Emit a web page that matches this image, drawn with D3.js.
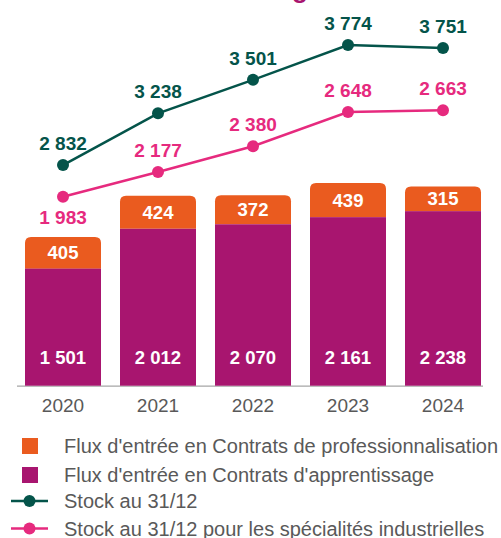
<!DOCTYPE html>
<html>
<head>
<meta charset="utf-8">
<script src="https://cdn.jsdelivr.net/npm/d3@7"></script>
<style>
  body { margin: 0; background: #fff; }
  svg { display: block; font-family: "Liberation Sans", Arial, sans-serif; }
</style>
</head>
<body>
<div id="chart"></div>
<script>
const years = ['2020', '2021', '2022', '2023', '2024'];
const apprentissage = [1501, 2012, 2070, 2161, 2238];
const professionnalisation = [405, 424, 372, 439, 315];
const stock = [2832, 3238, 3501, 3774, 3751];
const stockIndus = [1983, 2177, 2380, 2648, 2663];
const legendLabels = [
  "Flux d'entrée en Contrats de professionnalisation",
  "Flux d'entrée en Contrats d'apprentissage",
  'Stock au 31/12',
  'Stock au 31/12 pour les spécialités industrielles'
];

const width = 501;
const height = 538;
const baseY = 385.7;

const colOrange = '#EA5B1F';
const colPurple = '#A8156F';
const colGreen = '#04544A';
const colPink = '#E62A7E';

const svg = d3.select('#chart')
              .append('svg')
              .attr('width', width)
              .attr('height', height);

// cut-off title descender at the very top
svg.append('text')
   .attr('x', 300)
   .attr('y', -2)
   .attr('text-anchor', 'middle')
   .style('font-size', '26px')
   .style('font-weight', 'bold')
   .attr('fill', colPurple)
   .text('g');

const x = d3.scaleBand()
            .domain(years)
            .range([15.5, 490.5])
            .paddingInner(0.2)
            .paddingOuter(0.1);

const y = d3.scaleLinear().domain([0, 4920]).range([baseY, 2]);
// the two lines sit on offset scales in the original
const yStock = d3.scaleLinear().domain([1100, 4112]).range([baseY, 2]);
const yIndus = d3.scaleLinear().domain([500, 3512]).range([baseY, 2]);

// axis line
svg.append('line')
   .attr('x1', 17).attr('x2', 483)
   .attr('y1', baseY + 0.5).attr('y2', baseY + 0.5)
   .attr('stroke', '#a6a6a6')
   .attr('stroke-width', 1.2);

const bars = svg.selectAll('g.bar')
                .data(years)
                .enter()
                .append('g')
                .attr('class', 'bar');

const r = 6;
const topPath = (i) => {
  const x0 = x(years[i]);
  const x1 = x0 + x.bandwidth();
  const yb = y(apprentissage[i]);
  const yt = y(apprentissage[i] + professionnalisation[i]);
  return `M${x0},${yb}V${yt + r}Q${x0},${yt} ${x0 + r},${yt}H${x1 - r}Q${x1},${yt} ${x1},${yt + r}V${yb}Z`;
};

bars.append('path')
    .attr('d', (d, i) => topPath(i))
    .attr('fill', colOrange);

bars.append('rect')
    .attr('x', (d) => x(d))
    .attr('y', (d, i) => y(apprentissage[i]))
    .attr('width', x.bandwidth())
    .attr('height', (d, i) => baseY - y(apprentissage[i]))
    .attr('fill', colPurple);

const fmt = (v) => d3.format(',')(v).replace(',', ' ');

bars.append('text')
    .attr('x', (d) => x(d) + x.bandwidth() / 2)
    .attr('y', (d, i) => (y(apprentissage[i]) + y(apprentissage[i] + professionnalisation[i])) / 2 + 6.5)
    .attr('text-anchor', 'middle')
    .attr('fill', '#fff')
    .style('font-size', '18.5px')
    .style('font-weight', 'bold')
    .text((d, i) => professionnalisation[i]);

bars.append('text')
    .attr('x', (d) => x(d) + x.bandwidth() / 2)
    .attr('y', baseY - 22)
    .attr('text-anchor', 'middle')
    .attr('fill', '#fff')
    .style('font-size', '18.5px')
    .style('font-weight', 'bold')
    .text((d, i) => fmt(apprentissage[i]));

// x labels
svg.selectAll('text.xlab')
   .data(years)
   .enter()
   .append('text')
   .attr('class', 'xlab')
   .attr('x', (d) => x(d) + x.bandwidth() / 2)
   .attr('y', 412)
   .attr('text-anchor', 'middle')
   .attr('fill', '#595959')
   .style('font-size', '19px')
   .text((d) => d);

const cx = (i) => x(years[i]) + x.bandwidth() / 2;

const drawSeries = (values, scale, color, labelDy) => {
  const line = d3.line().x((d, i) => cx(i)).y((d) => scale(d));
  svg.append('path')
     .datum(values)
     .attr('d', line)
     .attr('fill', 'none')
     .attr('stroke', color)
     .attr('stroke-width', 2.5);
  svg.selectAll(null)
     .data(values)
     .enter()
     .append('circle')
     .attr('cx', (d, i) => cx(i))
     .attr('cy', (d) => scale(d))
     .attr('r', 6)
     .attr('fill', color);
  svg.selectAll(null)
     .data(values)
     .enter()
     .append('text')
     .attr('x', (d, i) => cx(i))
     .attr('y', (d, i) => scale(d) + labelDy(i))
     .attr('text-anchor', 'middle')
     .attr('fill', color)
     .style('font-size', '19px')
     .style('font-weight', 'bold')
     .text((d) => fmt(d));
};

drawSeries(stock, yStock, colGreen, () => -15);
drawSeries(stockIndus, yIndus, colPink, (i) => (i === 0 ? 27 : -15));

// legend
const legend = svg.append('g');
const rows = [446, 475, 501, 528.5];

legend.append('rect').attr('x', 22).attr('y', rows[0] - 8).attr('width', 16).attr('height', 16).attr('fill', colOrange);
legend.append('rect').attr('x', 22).attr('y', rows[1] - 8).attr('width', 16).attr('height', 16).attr('fill', colPurple);
[[colGreen, rows[2]], [colPink, rows[3]]].forEach(([c, ry]) => {
  legend.append('line').attr('x1', 11).attr('x2', 48).attr('y1', ry).attr('y2', ry)
        .attr('stroke', c).attr('stroke-width', 2.5);
  legend.append('circle').attr('cx', 29.5).attr('cy', ry).attr('r', 6).attr('fill', c);
});

legend.selectAll('text')
      .data(legendLabels)
      .enter()
      .append('text')
      .attr('x', 64)
      .attr('y', (d, i) => rows[i] + 7)
      .attr('fill', '#595959')
      .style('font-size', '20px')
      .text((d) => d);
</script>
</body>
</html>
